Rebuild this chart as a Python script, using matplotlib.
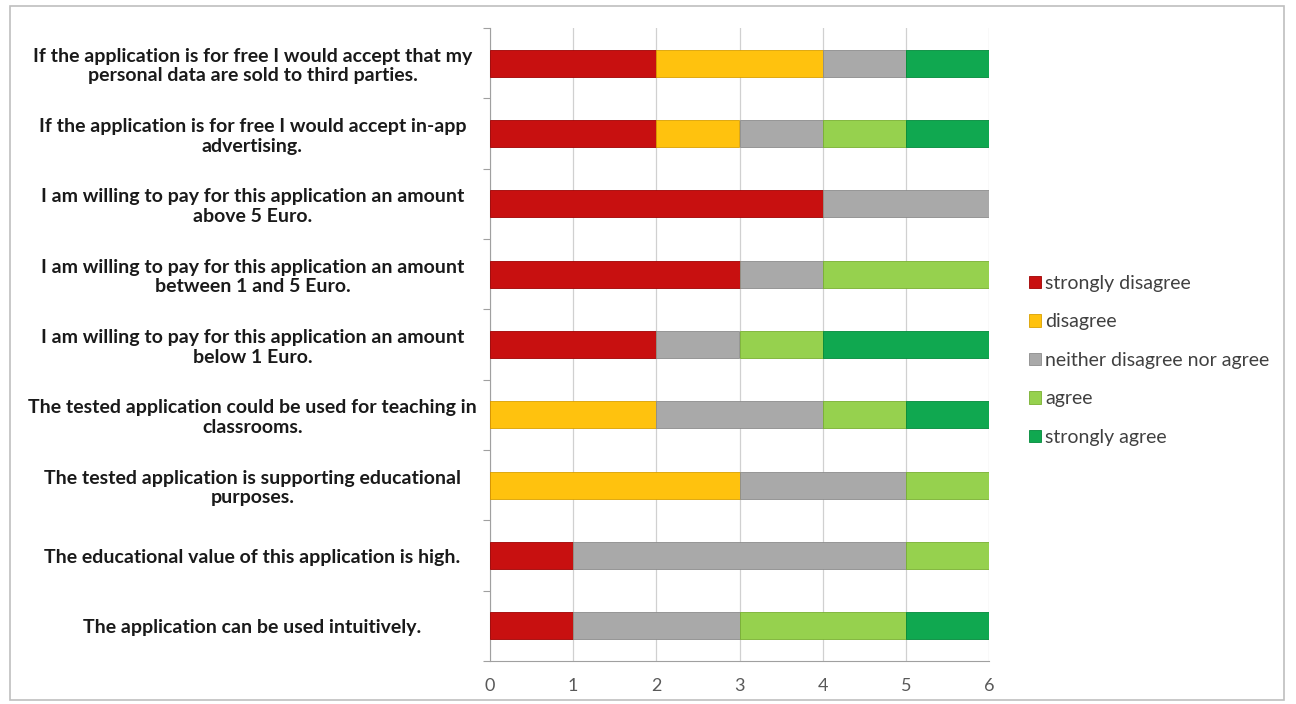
import matplotlib
matplotlib.use("Agg")
import matplotlib.pyplot as plt
from matplotlib.patches import Rectangle
import numpy as np

plt.rcParams['font.family'] = ['Lato', 'DejaVu Sans']

statements = [
    "If the application is for free I would accept that my\npersonal data are sold to third parties.",
    "If the application is for free I would accept in-app\nadvertising.",
    "I am willing to pay for this application an amount\nabove 5 Euro.",
    "I am willing to pay for this application an amount\nbetween 1 and 5 Euro.",
    "I am willing to pay for this application an amount\nbelow 1 Euro.",
    "The tested application could be used for teaching in\nclassrooms.",
    "The tested application is supporting educational\npurposes.",
    "The educational value of this application is high.",
    "The application can be used intuitively.",
]
categories = ["strongly disagree", "disagree", "neither disagree nor agree", "agree", "strongly agree"]
strongly_disagree = [2, 2, 4, 3, 2, 0, 0, 1, 1]
disagree          = [2, 1, 0, 0, 0, 2, 3, 0, 0]
neither           = [1, 1, 2, 1, 1, 2, 2, 4, 2]
agree             = [0, 1, 0, 2, 1, 1, 1, 1, 2]
strongly_agree    = [1, 1, 0, 0, 2, 1, 0, 0, 1]
x_ticks = [0, 1, 2, 3, 4, 5, 6]

colors = ["#C81010", "#FFC20E", "#A9A9A9", "#96D14E", "#10A850"]
edges = ["#A00000", "#D9A000", "#8C8C8C", "#78B030", "#008A3A"]

series = [strongly_disagree, disagree, neither, agree, strongly_agree]

fig = plt.figure(figsize=(12.96, 7.04), dpi=100)
fig.patches.append(Rectangle((10/1296, 4/704), 1274/1296, 694/704, transform=fig.transFigure,
                             fill=False, edgecolor="#BFBFBF", linewidth=1.2))
ax = fig.add_axes([490/1296, 1 - 661/704, 499/1296, 633/704])

n = len(statements)
ypos = np.arange(n)[::-1]
left = np.zeros(n)
handles = []
for vals, c, ec, lab in zip(series, colors, edges, categories):
    vals = np.array(vals, dtype=float)
    h = ax.barh(ypos, vals, left=left, height=0.38, color=c, edgecolor=ec, linewidth=0.6,
                label=lab, zorder=3)
    handles.append(h)
    left += vals

ax.set_xlim(0, 6)
ax.set_ylim(-0.5, n - 0.5)
ax.set_xticks(x_ticks)
ax.set_xticklabels([str(t) for t in x_ticks], fontsize=13, color="#595959")
ax.tick_params(axis='x', length=0, pad=12)
ax.xaxis.grid(True, color="#D0D0D0", linewidth=0.9, zorder=0)
ax.set_axisbelow(True)

ax.set_yticks(np.arange(-0.5, n, 1.0))
ax.set_yticklabels([])
ax.set_yticks(ypos, minor=True)
ax.set_yticklabels(statements, minor=True, fontsize=14, fontweight='bold', color="#1a1a1a",
                   ha='center', multialignment='center', linespacing=1.2)
ax.tick_params(axis='y', which='major', length=5, color="#A0A0A0", direction='out')
ax.tick_params(axis='y', which='minor', length=0, pad=171)

for s in ['top', 'right']:
    ax.spines[s].set_visible(False)
ax.spines['left'].set_color("#A0A0A0")
ax.spines['bottom'].set_color("#A0A0A0")

leg = ax.legend(handles=handles, labels=categories, loc='center left', bbox_to_anchor=(1.045, 0.475),
                frameon=False, fontsize=14, handlelength=0.6, handleheight=0.6, handletextpad=0.25,
                labelspacing=1.1, labelcolor="#404040")

fig.savefig("out.png", dpi=100)
